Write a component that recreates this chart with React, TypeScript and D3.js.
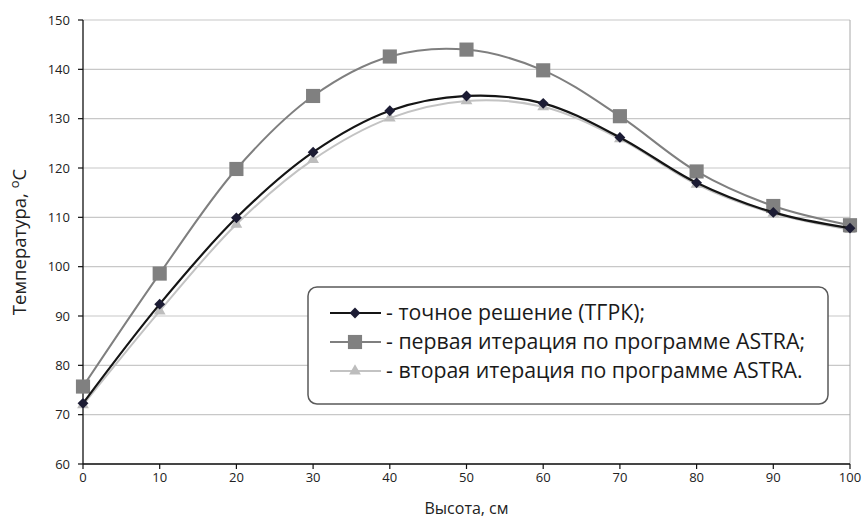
import * as d3 from "d3";
import React from "react";

// height, cm
const heights = [0, 10, 20, 30, 40, 50, 60, 70, 80, 90, 100];
// точное решение (ТГРК)
const exact = [72.3, 92.4, 109.9, 123.2, 131.6, 134.6, 133.1, 126.2, 117.0, 111.0, 107.8];
// первая итерация ASTRA
const firstIter = [75.7, 98.6, 119.8, 134.6, 142.6, 144.0, 139.8, 130.5, 119.3, 112.3, 108.4];
// вторая итерация ASTRA
const secondIter = [72.0, 91.0, 108.6, 121.7, 130.1, 133.6, 132.4, 125.9, 116.7, 110.8, 107.5];

const xTicks = [0, 10, 20, 30, 40, 50, 60, 70, 80, 90, 100];
const yTicks = [60, 70, 80, 90, 100, 110, 120, 130, 140, 150];

const legendLabels = [
  "- точное решение (ТГРК);",
  "- первая итерация по программе ASTRA;",
  "- вторая итерация по программе ASTRA.",
];

const W = 864;
const H = 520;
const margin = { top: 20, right: 14, bottom: 56, left: 83 };
const font = "'Open Sans', 'Noto Sans', sans-serif";

const series = [
  { values: exact, line: "#151515", marker: "#1c1c34", width: 2.2, shape: "diamond" },
  { values: firstIter, line: "#7f7f7f", marker: "#808080", width: 2, shape: "square" },
  { values: secondIter, line: "#c3c3c3", marker: "#bdbdbd", width: 2, shape: "triangle" },
];

const symbolFor = (shape: string) => {
  if (shape === "diamond") return d3.symbol().type(d3.symbolDiamond2).size(75)();
  if (shape === "square") return d3.symbol().type(d3.symbolSquare).size(200)();
  return d3.symbol().type(d3.symbolTriangle).size(60)();
};

const App = () => {
  const x = d3.scaleLinear().domain([0, 100]).range([margin.left, W - margin.right]);
  const y = d3.scaleLinear().domain([60, 150]).range([H - margin.bottom, margin.top]);

  const line = d3
    .line<number>()
    .x((_, i) => x(heights[i]))
    .y((d) => y(d))
    .curve(d3.curveCatmullRom.alpha(0.5));

  const x0 = x(0);
  const x1 = x(100);
  const yBottom = y(60);

  // lighter series underneath
  const drawOrder = [2, 1, 0];

  return (
    <svg width={W} height={H} style={{ display: "block", position: "absolute", left: 0, top: 0 }}>
      <rect width={W} height={H} fill="#fff" />
      {yTicks.map((t) => (
        <line key={"g" + t} x1={x0} x2={x1} y1={y(t)} y2={y(t)} stroke="#c8c8c8" strokeWidth={1.2} />
      ))}
      <line x1={x1} x2={x1} y1={y(150)} y2={yBottom} stroke="#a8a8a8" strokeWidth={1} />

      {/* axes */}
      <line x1={x0} x2={x0} y1={y(150)} y2={yBottom} stroke="#111" strokeWidth={1.3} />
      <line x1={x0} x2={x1} y1={yBottom} y2={yBottom} stroke="#111" strokeWidth={1.3} />
      {yTicks.map((t) => (
        <g key={"y" + t}>
          <line x1={x0 - 5} x2={x0} y1={y(t)} y2={y(t)} stroke="#111" strokeWidth={1.2} />
          <text x={x0 - 13} y={y(t)} dy="0.35em" textAnchor="end" fontFamily={font} fontSize={13} fill="#222">
            {t}
          </text>
        </g>
      ))}
      {xTicks.map((t) => (
        <g key={"x" + t}>
          <line x1={x(t)} x2={x(t)} y1={yBottom} y2={yBottom + 5} stroke="#111" strokeWidth={1.2} />
          <text x={x(t)} y={yBottom + 18} textAnchor="middle" fontFamily={font} fontSize={13} fill="#222">
            {t}
          </text>
        </g>
      ))}
      <text x={(x0 + x1) / 2} y={H - 6} textAnchor="middle" fontFamily={font} fontSize={16} fill="#222">
        Высота, см
      </text>
      <text
        transform={`translate(26, ${(y(150) + yBottom) / 2}) rotate(-90)`}
        textAnchor="middle"
        fontFamily={font}
        fontSize={18.5}
        fill="#222"
      >
        Температура, <tspan dy="-7" fontSize={13}>o</tspan>
        <tspan dy="7">С</tspan>
      </text>

      {drawOrder.map((si) => {
        const s = series[si];
        return (
          <g key={"s" + si}>
            <path d={line(s.values) || ""} fill="none" stroke={s.line} strokeWidth={s.width} />
            {s.values.map((v, i) => (
              <path
                key={i}
                d={symbolFor(s.shape) || ""}
                transform={`translate(${x(heights[i])},${y(v)})`}
                fill={s.marker}
              />
            ))}
          </g>
        );
      })}

      {/* legend */}
      <rect x={308} y={287} width={520} height={117} rx={9} fill="#fff" stroke="#5a5a5a" strokeWidth={1.5} />
      {series.map((s, i) => {
        const ly = 313 + i * 29;
        return (
          <g key={"l" + i}>
            <line x1={330} x2={381} y1={ly} y2={ly} stroke={s.line} strokeWidth={s.width} />
            <path d={symbolFor(s.shape) || ""} transform={`translate(355,${ly})`} fill={s.marker} />
            <text x={386} y={ly} dy="0.35em" fontFamily={font} fontSize={21.3} fill="#1a1a1a">
              {legendLabels[i]}
            </text>
          </g>
        );
      })}
    </svg>
  );
};

export default App;
